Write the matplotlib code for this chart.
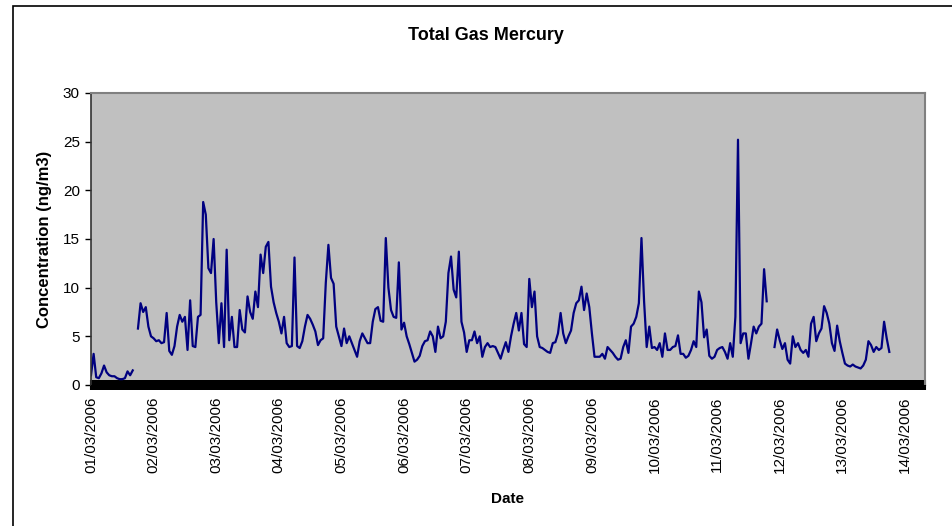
import numpy as np
import pandas as pd
import matplotlib
matplotlib.use('Agg')
import matplotlib.pyplot as plt
import matplotlib.dates as mdates
from matplotlib.patches import Rectangle

nan = np.nan

# Hourly total gas mercury readings (ng/m3) starting 01/03/2006 00:00
conc = [
    1.0, 3.2, 0.8, 0.7, 1.2, 2.0, 1.3, 1.0, 0.9, 0.9, 0.7, 0.6,
    0.6, 0.7, 1.4, 1.0, 1.5, nan, 5.8, 8.4, 7.5, 8.0, 6.0, 5.0,
    4.8, 4.5, 4.6, 4.3, 4.4, 7.4, 3.5, 3.1, 4.0, 6.0, 7.2, 6.5,
    7.0, 3.6, 8.7, 4.0, 3.9, 7.0, 7.2, 18.8, 17.5, 12.0, 11.5, 15.0,
    8.5, 4.3, 8.4, 3.9, 13.9, 4.6, 7.0, 3.9, 3.9, 7.7, 5.7, 5.4,
    9.1, 7.5, 6.8, 9.6, 8.0, 13.4, 11.5, 14.2, 14.7, 10.1, 8.5, 7.4,
    6.5, 5.3, 7.0, 4.3, 3.9, 4.0, 13.1, 4.0, 3.8, 4.5, 6.0, 7.2,
    6.8, 6.2, 5.5, 4.1, 4.6, 4.8, 10.5, 14.4, 11.0, 10.4, 6.0, 5.0,
    4.0, 5.8, 4.3, 5.0, 4.3, 3.6, 2.9, 4.5, 5.3, 4.8, 4.3, 4.3,
    6.5, 7.8, 8.0, 6.6, 6.5, 15.1, 10.0, 7.7, 7.0, 6.9, 12.6, 5.7,
    6.4, 5.0, 4.2, 3.3, 2.4, 2.6, 3.0, 4.0, 4.5, 4.6, 5.5, 5.0,
    3.4, 6.0, 4.8, 5.0, 6.5, 11.5, 13.2, 9.8, 9.0, 13.7, 6.5, 5.4,
    3.4, 4.6, 4.6, 5.5, 4.3, 5.0, 2.9, 3.9, 4.3, 3.9, 4.0, 3.9,
    3.3, 2.7, 3.6, 4.4, 3.4, 5.0, 6.3, 7.4, 5.6, 7.4, 4.2, 3.9,
    10.9, 8.0, 9.6, 5.0, 3.9, 3.8, 3.6, 3.4, 3.3, 4.3, 4.4, 5.3,
    7.4, 5.3, 4.3, 5.0, 5.6, 7.4, 8.4, 8.7, 10.1, 7.7, 9.4, 8.0,
    5.3, 2.9, 2.9, 2.9, 3.2, 2.7, 3.9, 3.6, 3.3, 2.9, 2.6, 2.7,
    3.9, 4.6, 3.3, 6.0, 6.3, 7.0, 8.4, 15.1, 8.6, 3.9, 6.0, 3.8,
    3.9, 3.6, 4.3, 2.9, 5.3, 3.6, 3.6, 3.9, 4.0, 5.1, 3.2, 3.2,
    2.8, 3.0, 3.6, 4.5, 3.9, 9.6, 8.5, 4.9, 5.7, 3.0, 2.7, 2.9,
    3.6, 3.8, 3.9, 3.4, 2.7, 4.3, 2.9, 7.0, 25.2, 4.3, 5.3, 5.3,
    2.7, 4.3, 6.0, 5.3, 6.0, 6.3, 11.9, 8.6, nan, nan, 3.9, 5.7,
    4.6, 3.7, 4.3, 2.6, 2.2, 5.0, 3.9, 4.3, 3.6, 3.3, 3.6, 2.9,
    6.3, 7.0, 4.5, 5.3, 5.8, 8.1, 7.4, 6.3, 4.3, 3.5, 6.1, 4.5,
    3.3, 2.2, 2.0, 1.9, 2.1, 1.9, 1.8, 1.7, 2.0, 2.6, 4.5, 4.1,
    3.4, 3.9, 3.6, 3.8, 6.5, 4.8, 3.4,
]
start = '2006-03-01'
axis_days = 13.32
y_ticks = [0, 5, 10, 15, 20, 25, 30]

times = pd.date_range(start, periods=len(conc), freq='h')

plt.rcParams['font.family'] = ['Liberation Sans', 'DejaVu Sans']

fig = plt.figure(figsize=(9.52, 5.26), dpi=100)
ax = fig.add_axes([91/952, 1 - 385/526, (925 - 91)/952, (385 - 93)/526])
ax.set_facecolor('#C0C0C0')

ax.plot(times, conc, color='#000080', lw=1.6)

t0 = pd.Timestamp(start)
ax.set_xlim(t0, t0 + pd.Timedelta(days=axis_days))
ax.set_ylim(0, 30)
ax.set_yticks(y_ticks)

ax.xaxis.set_major_locator(mdates.DayLocator())
ax.xaxis.set_major_formatter(mdates.DateFormatter('%d/%m/%Y'))
ax.xaxis.set_minor_locator(mdates.MinuteLocator(byminute=[0, 30]))
ax.tick_params(axis='x', which='both', direction='inout', length=6.5,
               width=1.5, color='black', pad=5, labelsize=11, labelrotation=90)
ax.tick_params(axis='y', direction='out', length=4, width=1, pad=4, labelsize=11)

for side in ['top', 'right']:
    ax.spines[side].set_color('#808080')
    ax.spines[side].set_linewidth(1.5)
ax.spines['left'].set_color('#333333')
ax.spines['left'].set_linewidth(1.2)

ax.set_ylabel('Concentration (ng/m3)', fontsize=12, fontweight='bold', labelpad=8)
ax.set_xlabel('Date', fontsize=11, fontweight='bold', labelpad=14)
fig.text(486/952, 1 - 35/526, 'Total Gas Mercury', ha='center', va='center',
         fontsize=13, fontweight='bold')

# chart area border (cropped at right and bottom)
fig.add_artist(Rectangle((13/952, -0.1), 1.2, 1.1 - 6/526, transform=fig.transFigure,
                         fill=False, ec='black', lw=1.2))

fig.savefig('out.png', dpi=100)
